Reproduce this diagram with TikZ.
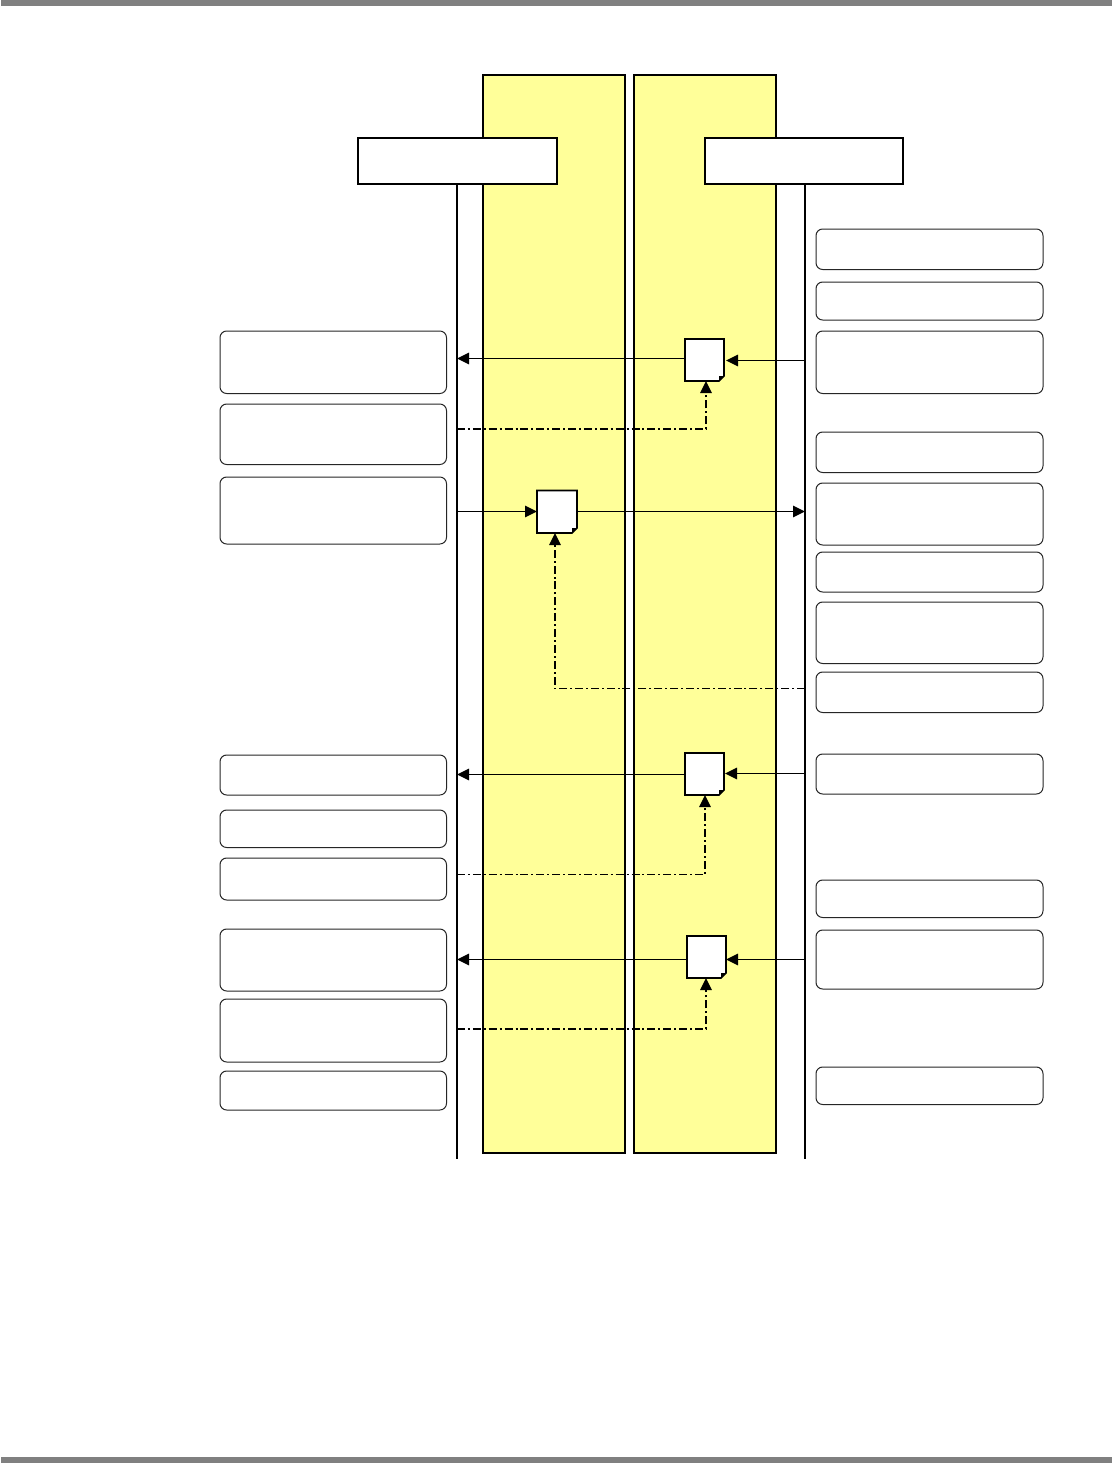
\documentclass[tikz,border=0pt]{standalone}
\usetikzlibrary{arrows.meta}
\definecolor{bandyellow}{RGB}{255,255,153}
\definecolor{bargray}{RGB}{128,128,128}
\tikzset{
  x=0.75pt,y=-0.75pt,
  base/.style={inner sep=0pt,outer sep=0pt,line width=1.5pt},
  band/.style={base,draw=black,fill=bandyellow},
  header/.style={base,draw=black,fill=white},
  note/.style={inner sep=0pt,outer sep=0pt,draw=black!85,fill=white,line width=0.75pt,rounded corners=5pt},
  docanchor/.style={inner sep=0pt,outer sep=0pt},
  docline/.style={draw=black,fill=white,line width=1.2pt,line join=miter},
  lifeline/.style={line width=1.5pt,draw=black},
  flow/.style={line width=1.25pt,draw=black,-{Triangle[length=9pt,width=8.6pt]}},
  ctrl/.style={line width=1pt,draw=black,dash pattern=on 6pt off 2.2pt on 1.5pt off 2.2pt,-{Triangle[length=9pt,width=8.6pt,sep=0pt]}},
}
\newcommand\bx[6]{\node[#1,minimum width={(#5-#3)*0.75pt},minimum height={(#6-#4)*0.75pt}] (#2) at ({(#3+#5)/2},{(#4+#6)/2}) {};}
\newcommand\docshape[1]{%
  \draw[docline] (#1.north west) -- (#1.north east) -- ([yshift=3.75pt]#1.south east) -- ([xshift=-3.75pt]#1.south east) -- (#1.south west) -- cycle;
  \fill[black] ([yshift=3.75pt]#1.south east) -- ([xshift=-3.75pt]#1.south east) -- ([xshift=-3.75pt,yshift=3.75pt]#1.south east) -- cycle;
}
\begin{document}
\begin{tikzpicture}
\useasboundingbox (0,0) rectangle (1112,1463);
\fill[white] (0,0) rectangle (1112,1463);
\bx{fill=bargray,inner sep=0pt}{topbar}{1}{0}{1112}{6}
\bx{fill=bargray,inner sep=0pt}{botbar}{1}{1457}{1112}{1463}
% bands
\bx{band}{bandL}{483}{75}{625}{1152.5}
\bx{band}{bandR}{634}{75}{776}{1152.5}
% lifelines and headers
\coordinate (llAend) at (457,1158.5);
\coordinate (llBend) at (805,1158.5);
\draw[lifeline] (457,184) coordinate (llAtop) -- (llAend);
\draw[lifeline] (805,184) coordinate (llBtop) -- (llBend);
\bx{header}{hdrA}{358}{138}{556.5}{184}
\bx{header}{hdrB}{705}{138}{903}{184}
% left notes
\bx{note}{l1}{220}{331}{446.5}{393.5}
\bx{note}{l2}{220}{404}{446.5}{464.5}
\bx{note}{l3}{220}{477}{446.5}{544}
\bx{note}{l4}{220}{755}{446.5}{795}
\bx{note}{l5}{220}{810}{446.5}{847.5}
\bx{note}{l6}{220}{858}{446.5}{900}
\bx{note}{l7}{220}{929}{446.5}{991}
\bx{note}{l8}{220}{999}{446.5}{1062}
\bx{note}{l9}{220}{1071}{446.5}{1110}
% right notes
\bx{note}{r1}{816}{229}{1043}{269.5}
\bx{note}{r2}{816}{282}{1043}{320}
\bx{note}{r3}{816}{331}{1043}{393.5}
\bx{note}{r4}{816}{432}{1043}{472.5}
\bx{note}{r5}{816}{483}{1043}{545}
\bx{note}{r6}{816}{552}{1043}{592}
\bx{note}{r7}{816}{602}{1043}{663.5}
\bx{note}{r8}{816}{672}{1043}{712.5}
\bx{note}{r9}{816}{754}{1043}{794}
\bx{note}{r10}{816}{880}{1043}{917.5}
\bx{note}{r11}{816}{930}{1043}{989}
\bx{note}{r12}{816}{1067}{1043}{1104.5}
% connector end points
\coordinate (a1) at (457,358.5);
\coordinate (b1) at (805,360.5);
\coordinate (a1c) at (457,429);
\coordinate (k1) at (706,429);
\coordinate (a2) at (457,511.5);
\coordinate (b2) at (805,511.5);
\coordinate (b2c) at (805,688.5);
\coordinate (k2) at (555,688.5);
\coordinate (a3) at (457,774.5);
\coordinate (b3) at (805,773.5);
\coordinate (a3c) at (457,874.5);
\coordinate (k3) at (705,874.5);
\coordinate (a4) at (457,959.5);
\coordinate (b4) at (805,959.5);
\coordinate (a4c) at (457,1029);
\coordinate (k4) at (706,1029);
% documents
\bx{docanchor}{d1}{685}{339}{724}{381}
\bx{docanchor}{d2}{537}{490.5}{577}{533}
\bx{docanchor}{d3}{685}{753}{724}{795}
\bx{docanchor}{d4}{687}{936}{726}{978}
% connectors
\draw[flow] (d1.west |- a1) -- (a1);
\draw[flow] (b1) -- ([xshift=1.5pt]d1.east |- b1);
\draw[ctrl] (a1c) -- (k1) -- (k1 |- d1.south);
\draw[flow] (a2) -- (d2.west |- a2);
\draw[flow] (d2.east |- b2) -- (b2);
\draw[ctrl] (b2c) -- (k2) -- (k2 |- d2.south);
\draw[flow] (d3.west |- a3) -- (a3);
\draw[flow] (b3) -- ([xshift=0.75pt]d3.east |- b3);
\draw[ctrl] (a3c) -- (k3) -- (k3 |- d3.south);
\draw[flow] (d4.west |- a4) -- (a4);
\draw[flow] (b4) -- (d4.east |- b4);
\draw[ctrl] (a4c) -- (k4) -- (k4 |- d4.south);
\docshape{d1}
\docshape{d2}
\docshape{d3}
\docshape{d4}
\end{tikzpicture}
\end{document}
